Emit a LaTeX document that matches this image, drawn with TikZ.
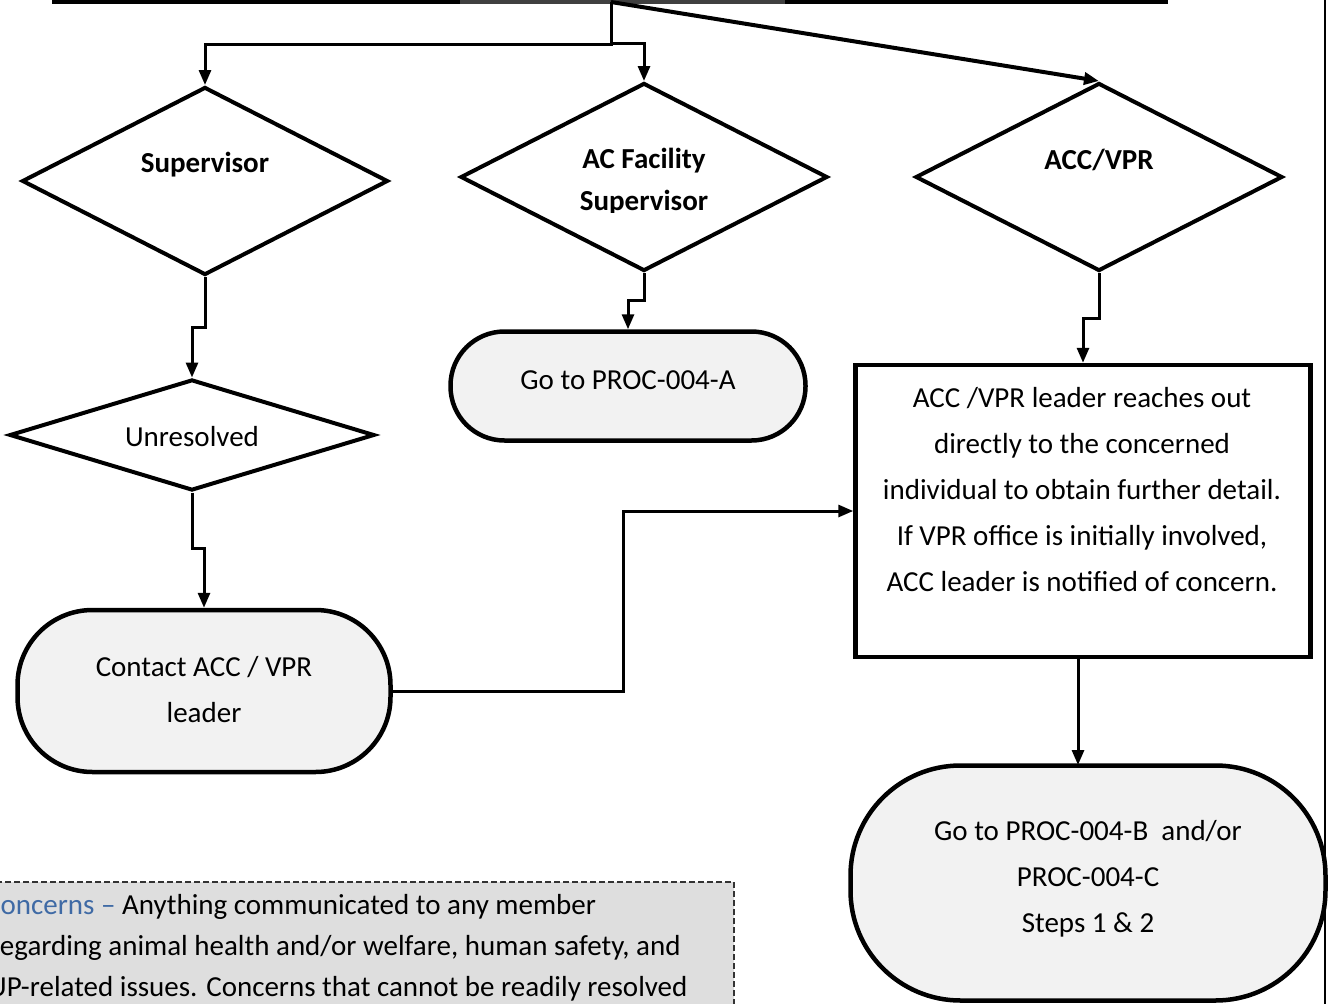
\documentclass[tikz,border=0pt]{standalone}
\usepackage{fontspec}
\setmainfont{Carlito}
\usetikzlibrary{shapes.geometric,arrows.meta}

\definecolor{termgray}{HTML}{F2F2F2}
\definecolor{notegray}{HTML}{DEDEDE}
\definecolor{noteblue}{HTML}{3F6AA5}

\tikzset{
  conn/.style={line width=3pt,-{Triangle[length=15pt,width=12pt]}},
  decision/.style={diamond,draw=black,line width=4pt,fill=white,inner sep=0pt},
  terminal/.style={draw=black,line width=4.5pt,fill=termgray,inner sep=0pt},
  txt/.style={inner sep=0pt,font=\fontsize{29}{46}\selectfont,align=center},
  notetxt/.style={inner sep=0pt,font=\fontsize{29}{41}\selectfont,anchor=west},
}

\begin{document}
\begin{tikzpicture}[x=1pt,y=-1pt]
\useasboundingbox (0,0) rectangle (1328,1004);
\clip (0,0) rectangle (1328,1004);

% top bar
\fill (52,-3) rectangle (1168,4);
\fill[black!75] (460,-3) rectangle (785,4);
\coordinate (hub) at (611,2);
\draw[line width=1.5pt] (1325,0) -- (1325,1004);

% decisions
\node[decision,minimum width=366pt,minimum height=188pt] (sup) at (205,181) {};
\node[txt,font=\fontsize{29}{46}\selectfont\bfseries] (sup-t) at (205,165) {Supervisor};
\node[decision,minimum width=367pt,minimum height=188pt] (acf) at (644,177) {};
\node[txt,font=\fontsize{29}{46}\selectfont\bfseries] (acf-t) at (644,161) {AC Facility};
\begin{scope}
\clip (461,185) rectangle (828,212);
\node[txt,font=\fontsize{29}{46}\selectfont\bfseries] (acf-s) at (644,203) {Supervisor};
\end{scope}
\node[decision,minimum width=367pt,minimum height=188pt] (acc) at (1099,177) {};
\node[txt,font=\fontsize{29}{46}\selectfont\bfseries] (acc-t) at (1099,160) {ACC/VPR};
\node[decision,minimum width=365pt,minimum height=111pt] (unres) at (192,435) {};
\node[txt] (unres-t) at (192,437) {Unresolved};

% terminals and box
\node[terminal,rounded corners=75pt,minimum width=373pt,minimum height=162pt] (contact) at (204,691) {};
\node[txt] (contact-t) at (204,690) {Contact ACC / VPR\\leader};
\node[terminal,rounded corners=54pt,minimum width=355pt,minimum height=109pt] (goA) at (628,386) {};
\node[txt] (goA-t) at (628,380) {Go to PROC-004-A};
\node[draw=black,line width=4.5pt,fill=white,minimum width=455pt,minimum height=292pt,inner sep=0pt] (accbox) at (1083,511) {};
\node[txt] (accbox-t) at (1082,490) {ACC /VPR leader reaches out\\directly to the concerned\\individual to obtain further detail.\\If VPR office is initially involved,\\ACC leader is notified of concern.};
\node[terminal,rounded corners=110pt,minimum width=475pt,minimum height=235pt] (goB) at (1088,883) {};
\node[txt] (goB-t) at (1088,879) {Go to PROC-004-B\ \ and/or\\PROC-004-C\\Steps 1 \& 2};

% connectors
\draw[conn] (hub) -- (611,44) -| (sup.north);
\draw[conn] (hub) -- (611,43) -| (acf.north);
\draw[conn,line width=4pt] (hub) -- (acc.north);
\draw[conn] (sup.south) -- (205,327) -| (unres.north);
\draw[conn] (unres.south) -- (192,548) -| (contact.north);
\draw[conn] (acf.south) -- (644,300) -| (goA.north);
\draw[conn] (acc.south) -- (1099,318) -| (accbox.north);
\draw[conn] (contact.east) -- (623,691) |- (accbox.west);
\draw[conn] (accbox.south -| 1078,0) -- (1078,765);

% note
\node[draw=black!80,dashed,dash pattern=on 6pt off 3pt,line width=1.5pt,fill=notegray,minimum width=748pt,minimum height=140pt,inner sep=0pt,anchor=north west] (note) at (-15,881) {};
\node[notetxt] (note1) at (-15,907) {\textcolor{noteblue}{Concerns –} Anything communicated to any member};
\node[notetxt] (note2) at (-10,948) {regarding animal health and/or welfare, human safety, and};
\node[notetxt] (note3) at (-44,989) {ACUP-related issues. Concerns that cannot be readily resolved};
\end{tikzpicture}
\end{document}
